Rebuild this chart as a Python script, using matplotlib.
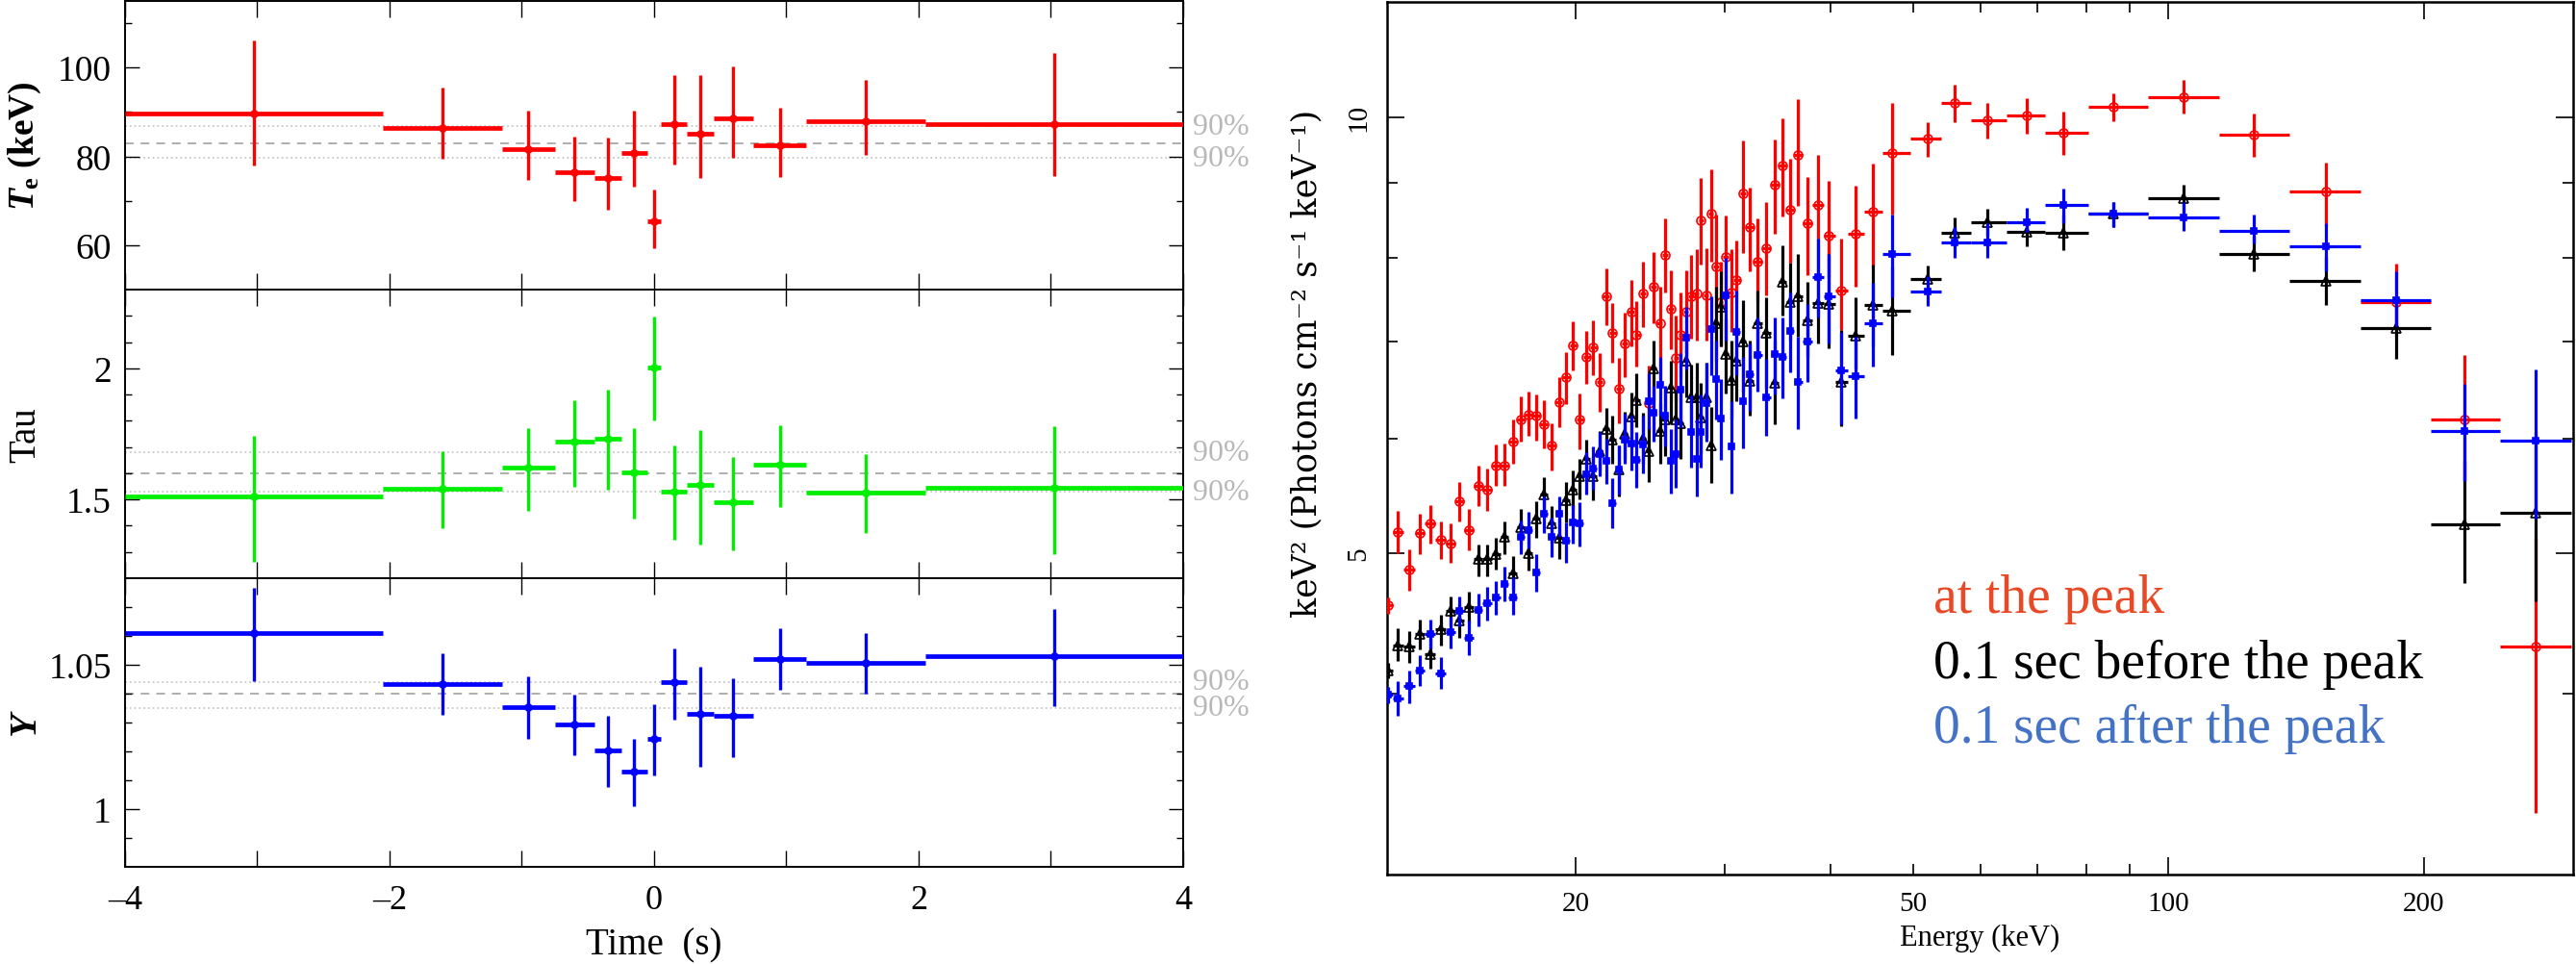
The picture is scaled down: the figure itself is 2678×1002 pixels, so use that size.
import numpy as np
import matplotlib
matplotlib.use("Agg")
import matplotlib.pyplot as plt
import matplotlib.transforms as mtransforms
from matplotlib.ticker import FixedLocator, FixedFormatter, NullFormatter

plt.rcParams['font.family'] = 'Liberation Serif'
plt.rcParams['mathtext.fontset'] = 'custom'
plt.rcParams['mathtext.it'] = 'Liberation Serif:italic:bold'
plt.rcParams['mathtext.rm'] = 'Liberation Serif:bold'

# ---------------- left: fit parameters vs time ----------------
t_edges = [-4.0, -2.05, -1.15, -0.75, -0.45, -0.25, -0.05, 0.05, 0.25, 0.45, 0.75, 1.15, 2.05, 4.0]

te = [89.7, 86.4, 81.7, 76.5, 75.2, 80.7, 65.3, 87.2, 85.0, 88.6, 82.4, 88.0, 87.2]
te_hi = [106.1, 95.5, 90.3, 84.4, 84.3, 90.2, 72.5, 98.3, 98.3, 100.2, 91.0, 97.2, 103.3]
te_lo = [77.9, 79.4, 74.6, 70.0, 67.9, 73.2, 59.4, 78.2, 75.2, 79.6, 75.4, 80.3, 75.6]
te_ref = [83.0, 79.6, 86.8]      # mean, lower 90%, upper 90%

tau = [1.512, 1.540, 1.620, 1.720, 1.733, 1.604, 2.004, 1.530, 1.554, 1.489, 1.632, 1.526, 1.545]
tau_hi = [1.741, 1.683, 1.771, 1.879, 1.917, 1.771, 2.198, 1.706, 1.763, 1.661, 1.784, 1.674, 1.780]
tau_lo = [1.263, 1.390, 1.457, 1.550, 1.538, 1.428, 1.800, 1.345, 1.327, 1.305, 1.470, 1.373, 1.290]
tau_ref = [1.599, 1.530, 1.679]

yy = [1.0611, 1.0434, 1.0354, 1.0294, 1.0203, 1.0130, 1.0242, 1.0439, 1.0330, 1.0324, 1.0521, 1.0508, 1.0530]
yy_hi = [1.0767, 1.0539, 1.0461, 1.0398, 1.0323, 1.0242, 1.0364, 1.0557, 1.0494, 1.0452, 1.0628, 1.0609, 1.0692]
yy_lo = [1.0442, 1.0326, 1.0244, 1.0187, 1.0078, 1.0011, 1.0117, 1.0311, 1.0148, 1.0179, 1.0414, 1.0400, 1.0357]
yy_ref = [1.0399, 1.0350, 1.0440]

# ---------------- right: spectra (keV^2 photons cm-2 s-1 keV-1) ----------------
energy = [12.02, 12.36, 12.74, 13.11, 13.49, 13.87, 14.24, 14.61, 14.98, 15.36,
          15.74, 16.12, 16.51, 16.87, 17.25, 17.63, 17.99, 18.37, 18.74, 19.12,
          19.50, 19.86, 20.23, 20.62, 20.99, 21.35, 21.73, 22.11, 22.50, 22.85,
          23.26, 23.62, 24.00, 24.39, 24.72, 25.15, 25.50, 25.90, 26.28, 26.62,
          27.01, 27.35, 27.78, 28.12, 28.52, 28.89, 29.31, 29.69, 30.04, 30.52,
          30.96, 31.52, 32.07, 32.81, 33.59, 34.33, 35.08, 35.79, 36.57, 37.51,
          38.61, 39.81, 41.11, 42.78, 44.84, 47.29, 52.0, 56.0, 61.1, 68.1,
          75.1, 86.1, 104.2, 126.1, 153.2, 185.4, 223.6, 270.8]

peak = [4.60, 5.17, 4.87, 5.16, 5.24, 5.11, 5.08, 5.43, 5.19, 5.56,
        5.53, 5.75, 5.75, 5.97, 6.18, 6.23, 6.22, 6.14, 5.93, 6.36,
        6.61, 6.96, 6.18, 6.83, 6.93, 6.56, 7.52, 7.10, 6.49, 6.98,
        7.34, 7.07, 7.55, 6.35, 7.63, 7.21, 8.03, 7.37, 6.82, 7.07,
        7.34, 7.52, 7.55, 8.48, 7.53, 8.58, 7.89, 7.45, 8.01, 7.57,
        7.72, 8.85, 8.39, 7.94, 8.12, 8.98, 9.26, 8.63, 9.42, 8.44,
        8.70, 8.28, 7.59, 8.31, 8.60, 9.44, 9.66, 10.23, 9.95, 10.02,
        9.75, 10.16, 10.32, 9.72, 8.88, 7.45, 6.18, 4.31]
peak_hi = [4.66, 5.35, 5.03, 5.32, 5.40, 5.26, 5.24, 5.60, 5.36, 5.75,
           5.72, 5.94, 5.95, 6.18, 6.41, 6.46, 6.43, 6.38, 6.15, 6.61,
           6.88, 7.23, 6.44, 7.12, 7.24, 6.87, 7.86, 7.44, 6.82, 7.33,
           7.72, 7.46, 7.95, 6.74, 8.07, 7.63, 8.51, 7.84, 7.29, 7.57,
           7.84, 8.03, 8.10, 9.07, 8.12, 9.20, 8.56, 7.95, 8.55, 8.10,
           8.22, 9.63, 8.94, 8.51, 8.73, 9.65, 9.98, 9.36, 10.29, 9.09,
           9.42, 9.04, 8.24, 8.97, 9.29, 10.23, 9.91, 10.52, 10.23, 10.30,
           10.08, 10.39, 10.60, 10.05, 9.30, 7.92, 6.85, 5.12]
peak_lo = [4.54, 5.00, 4.71, 4.99, 5.08, 4.95, 4.92, 5.26, 5.02, 5.39,
           5.35, 5.56, 5.56, 5.76, 5.97, 6.02, 5.98, 5.91, 5.70, 6.11,
           6.34, 6.68, 5.90, 6.54, 6.63, 6.26, 7.18, 6.77, 6.15, 6.61,
           6.95, 6.73, 7.16, 6.06, 7.20, 6.56, 7.57, 6.91, 6.37, 6.61,
           6.87, 7.03, 7.01, 7.91, 7.01, 7.95, 7.33, 6.95, 7.50, 7.11,
           7.45, 8.06, 7.83, 7.45, 7.53, 8.30, 8.54, 7.93, 8.68, 7.78,
           8.24, 7.75, 7.13, 7.64, 7.89, 8.56, 9.39, 9.92, 9.66, 9.73,
           9.41, 9.93, 10.05, 9.39, 8.41, 7.06, 5.61, 3.31]

before = [4.15, 4.32, 4.31, 4.40, 4.26, 4.43, 4.56, 4.49, 4.59, 4.95,
          4.95, 4.99, 5.13, 4.84, 5.21, 5.00, 5.28, 5.49, 5.24, 5.12,
          5.44, 5.53, 5.65, 5.81, 5.65, 5.88, 6.09, 5.99, 5.71, 6.04,
          6.21, 6.38, 6.00, 5.88, 6.71, 6.07, 6.18, 6.50, 6.18, 6.15,
          6.79, 6.40, 6.40, 6.20, 6.40, 5.93, 7.21, 7.39, 6.86, 6.58,
          6.79, 7.00, 6.57, 7.21, 7.10, 6.55, 7.69, 7.45, 7.52, 7.24,
          7.44, 7.43, 6.56, 7.06, 7.42, 7.35, 7.73, 8.32, 8.46, 8.33,
          8.32, 8.58, 8.79, 8.04, 7.71, 7.15, 5.23, 5.33]
before_hi = [4.20, 4.44, 4.42, 4.50, 4.37, 4.53, 4.67, 4.61, 4.70, 5.07,
             5.07, 5.12, 5.26, 4.98, 5.36, 5.16, 5.43, 5.64, 5.39, 5.28,
             5.60, 5.70, 5.81, 5.99, 5.83, 6.07, 6.30, 6.22, 5.93, 6.26,
             6.45, 6.65, 6.25, 6.11, 7.01, 6.35, 6.50, 6.79, 6.48, 6.48,
             7.12, 6.75, 6.77, 6.55, 6.77, 6.31, 7.63, 7.82, 7.26, 7.01,
             7.18, 7.47, 7.01, 7.59, 7.51, 7.01, 8.15, 7.93, 8.04, 7.69,
             8.24, 8.04, 7.13, 7.51, 7.91, 7.89, 7.90, 8.53, 8.64, 8.53,
             8.56, 8.74, 8.98, 8.28, 8.01, 7.50, 5.79, 6.06]
before_lo = [4.10, 4.21, 4.20, 4.29, 4.16, 4.32, 4.45, 4.37, 4.48, 4.82,
             4.82, 4.87, 4.99, 4.72, 5.07, 4.86, 5.12, 5.31, 5.08, 4.95,
             5.25, 5.36, 5.45, 5.63, 5.44, 5.70, 5.88, 5.76, 5.47, 5.81,
             5.99, 6.11, 5.76, 5.60, 6.37, 5.76, 5.83, 6.15, 5.81, 5.81,
             6.40, 6.04, 6.01, 5.85, 6.01, 5.59, 6.79, 6.95, 6.44, 6.18,
             6.37, 6.46, 6.22, 6.81, 6.50, 6.14, 7.29, 7.01, 7.05, 6.83,
             6.98, 6.92, 6.12, 6.71, 6.94, 6.85, 7.56, 8.13, 8.28, 8.14,
             8.09, 8.40, 8.59, 7.82, 7.42, 6.81, 4.77, 4.63]

after = [3.99, 3.97, 4.05, 4.15, 4.40, 4.13, 4.41, 4.56, 4.37, 4.57,
         4.62, 4.66, 4.76, 4.66, 5.13, 5.19, 4.85, 5.32, 5.13, 5.32,
         5.10, 5.25, 5.24, 5.67, 5.72, 5.85, 5.79, 5.41, 5.71, 5.99,
         5.95, 5.80, 5.94, 6.37, 6.25, 6.53, 6.22, 5.79, 5.85, 6.48,
         7.04, 6.06, 5.81, 6.06, 6.35, 7.14, 6.59, 6.19, 7.53, 5.92,
         7.11, 6.37, 6.64, 6.85, 6.40, 6.86, 6.83, 7.12, 6.56, 7.00,
         7.75, 7.52, 6.68, 6.62, 7.20, 8.04, 7.58, 8.19, 8.19, 8.46,
         8.69, 8.57, 8.52, 8.34, 8.14, 7.47, 6.07, 5.98]
after_hi = [4.04, 4.08, 4.15, 4.25, 4.50, 4.24, 4.52, 4.67, 4.49, 4.69,
            4.74, 4.78, 4.89, 4.81, 5.27, 5.34, 4.99, 5.47, 5.29, 5.47,
            5.25, 5.40, 5.42, 5.87, 5.92, 6.06, 6.00, 5.63, 5.93, 6.24,
            6.22, 6.06, 6.22, 6.65, 6.52, 6.83, 6.52, 6.09, 6.18, 6.87,
            7.39, 6.42, 6.18, 6.43, 6.77, 7.52, 7.01, 6.59, 8.00, 6.37,
            7.59, 6.83, 6.98, 7.27, 6.81, 7.27, 7.27, 7.57, 7.05, 7.43,
            8.24, 8.04, 7.11, 7.05, 7.68, 8.56, 7.76, 8.40, 8.44, 8.66,
            8.92, 8.74, 8.74, 8.56, 8.44, 7.82, 6.54, 6.69]
after_lo = [3.94, 3.86, 3.94, 4.05, 4.30, 4.03, 4.30, 4.45, 4.25, 4.45,
            4.49, 4.53, 4.63, 4.53, 4.99, 5.04, 4.70, 5.16, 4.97, 5.13,
            4.92, 5.08, 5.05, 5.49, 5.53, 5.65, 5.58, 5.20, 5.49, 5.76,
            5.70, 5.55, 5.68, 6.09, 5.97, 6.22, 5.92, 5.50, 5.55, 6.11,
            6.69, 5.73, 5.47, 5.73, 5.97, 6.63, 6.18, 5.80, 7.01, 5.50,
            6.63, 5.91, 6.27, 6.46, 6.02, 6.43, 6.39, 6.66, 6.09, 6.56,
            7.27, 6.98, 6.14, 6.19, 6.73, 7.51, 7.41, 7.99, 8.00, 8.33,
            8.44, 8.40, 8.34, 8.18, 7.82, 7.17, 5.61, 5.28]

fig = plt.figure(figsize=(26.78, 10.03), dpi=100)

# ---------------- left panels ----------------
t_edges = np.array(t_edges)
t_mid = 0.5 * (t_edges[:-1] + t_edges[1:])
t_half = 0.5 * np.diff(t_edges)

panels = [
    (te, te_hi, te_lo, te_ref, 'red', (50, 115), [60, 80, 100], ['60', '80', '100'],
     [50, 70, 90, 110], 0.473),
    (tau, tau_hi, tau_lo, tau_ref, '#00ee00', (1.2, 2.3), [1.5, 2.0], ['1.5', '2'],
     [1.2, 1.3, 1.4, 1.6, 1.7, 1.8, 1.9, 2.1, 2.2], 0.617),
    (yy, yy_hi, yy_lo, yy_ref, 'blue', (0.98, 1.08), [1.0, 1.05], ['1', '1.05'],
     [0.99, 1.01, 1.02, 1.03, 1.04, 1.06, 1.07], 0.613),
]

left_axes = []
for i, (v, hi, lo, ref, col, ylim, yt, ytl, ymin, lab_y) in enumerate(panels):
    ax = fig.add_axes([0.0485, 0.6989 - i * 0.2991, 0.4108, 0.2991])
    v = np.array(v); hi = np.array(hi); lo = np.array(lo)
    ax.axhline(ref[0], color='#a8a8a8', ls=(0, (5, 4)), lw=1.3, zorder=1)
    ax.axhline(ref[1], color='#c8c8c8', ls=':', lw=1.3, zorder=1)
    ax.axhline(ref[2], color='#c8c8c8', ls=':', lw=1.3, zorder=1)
    ax.errorbar(t_mid, v, xerr=t_half, fmt='none', ecolor=col, elinewidth=3.4, capsize=0, zorder=3)
    ax.errorbar(t_mid, v, yerr=[v - lo, hi - v], fmt='o', ms=5, mfc='none', mec=col, mew=1.2,
                ecolor=col, elinewidth=2.4, capsize=0, zorder=3)
    trans = mtransforms.blended_transform_factory(ax.transAxes, ax.transData)
    for r in ref[1:]:
        ax.text(1.009, r, '90%', transform=trans, color='#b8b8b8', fontsize=23,
                ha='left', va='center', clip_on=False)
    ax.set_xlim(-4, 4)
    ax.set_ylim(*ylim)
    ax.yaxis.set_major_locator(FixedLocator(yt))
    ax.yaxis.set_major_formatter(FixedFormatter(ytl))
    ax.yaxis.set_minor_locator(FixedLocator(ymin))
    ax.xaxis.set_major_locator(FixedLocator([-4, -2, 0, 2, 4]))
    ax.xaxis.set_minor_locator(FixedLocator([-3, -1, 1, 3]))
    ax.tick_params(which='both', direction='in', top=True, right=True, labelsize=27, pad=10)
    ax.tick_params(axis='y', which='major', length=11, width=1)
    ax.tick_params(axis='y', which='minor', length=5, width=1)
    ax.tick_params(axis='x', which='both', length=12, width=1)
    for s in ax.spines.values():
        s.set_linewidth(1.4)
    ax.yaxis.set_label_coords(-0.077, lab_y)
    if i < 2:
        ax.xaxis.set_major_formatter(NullFormatter())
    else:
        ax.xaxis.set_major_formatter(FixedFormatter(['\u20134', '\u20132', '0', '2', '4']))
        ax.tick_params(axis='x', labelsize=26, pad=13)
        ax.set_xlabel('Time  (s)', fontsize=28, labelpad=8)
    left_axes.append(ax)

left_axes[0].set_ylabel(r'$T_{\rm e}$ (keV)', fontsize=27, fontweight='bold')
left_axes[1].set_ylabel('Tau', fontsize=28)
left_axes[2].set_ylabel('Y', fontsize=29, fontweight='bold', fontstyle='italic')

# ---------------- right panel: spectra ----------------
ax = fig.add_axes([0.5385, 0.0927, 0.4604, 0.9040])
ax.set_xscale('log')
ax.set_yscale('log')

energy = np.array(energy)
mid = np.sqrt(energy[:-1] * energy[1:])
e_lo = np.r_[energy[0] ** 2 / mid[0], mid]
e_hi = np.r_[mid, energy[-1] ** 2 / mid[-1]]
xerr = [energy - e_lo, e_hi - energy]

spectra = [
    (peak, peak_hi, peak_lo, 'red', 'o', 'none', 6.5),
    (before, before_hi, before_lo, 'black', '^', 'none', 7),
    (after, after_hi, after_lo, 'blue', 's', 'blue', 5),
]
for k, (f, fh, fl, col, mk, mfc, ms) in enumerate(spectra):
    f = np.array(f); fh = np.array(fh); fl = np.array(fl)
    ax.errorbar(energy, f, xerr=xerr, yerr=[np.abs(f - fl), np.abs(fh - f)], fmt=mk,
                ms=ms, mfc=mfc, mec=col, mew=1.2, ecolor=col, elinewidth=2.3,
                capsize=0, zorder=3 + k)

ax.set_xlim(12, 300)
ax.set_ylim(3, 12)
ax.xaxis.set_major_locator(FixedLocator([20, 100, 200]))
ax.xaxis.set_major_formatter(FixedFormatter(['20', '100', '200']))
ax.xaxis.set_minor_locator(FixedLocator([30, 40, 50, 60, 70, 80, 90]))
ax.xaxis.set_minor_formatter(FixedFormatter(['', '', '50', '', '', '', '']))
ax.yaxis.set_major_locator(FixedLocator([5, 10]))
ax.yaxis.set_major_formatter(FixedFormatter(['5', '10']))
ax.yaxis.set_minor_locator(FixedLocator([4, 6, 7, 8, 9]))
ax.yaxis.set_minor_formatter(NullFormatter())
ax.tick_params(which='both', direction='in', top=True, right=True, labelsize=21)
ax.tick_params(which='major', length=13, width=1.2)
ax.tick_params(which='minor', length=8, width=1.2)
ax.tick_params(axis='x', which='both', pad=12)
ax.tick_params(axis='y', which='major', labelrotation=90, pad=12)
for lab in ax.get_yticklabels():
    lab.set_va('center')
for s in ax.spines.values():
    s.set_linewidth(1.8)

ax.set_xlabel('Energy (keV)', fontsize=22, labelpad=6)
ax.set_ylabel('keV\u00b2 (Photons cm\u207b\u00b2 s\u207b\u00b9 keV\u207b\u00b9)', fontsize=25,
              family=['DejaVu Serif'])
ax.yaxis.set_label_coords(-0.054, 0.587)

legend_font = dict(fontsize=40, family='Liberation Serif', va='baseline')
ax.text(0.4607, 0.3014, 'at the peak', transform=ax.transAxes, color='#e84a27', **legend_font)
ax.text(0.4607, 0.2261, '0.1 sec before the peak', transform=ax.transAxes, color='black',
        **legend_font)
ax.text(0.4607, 0.1525, '0.1 sec after the peak', transform=ax.transAxes, color='#4472c4',
        **legend_font)

fig.savefig('out.png', dpi=100)
